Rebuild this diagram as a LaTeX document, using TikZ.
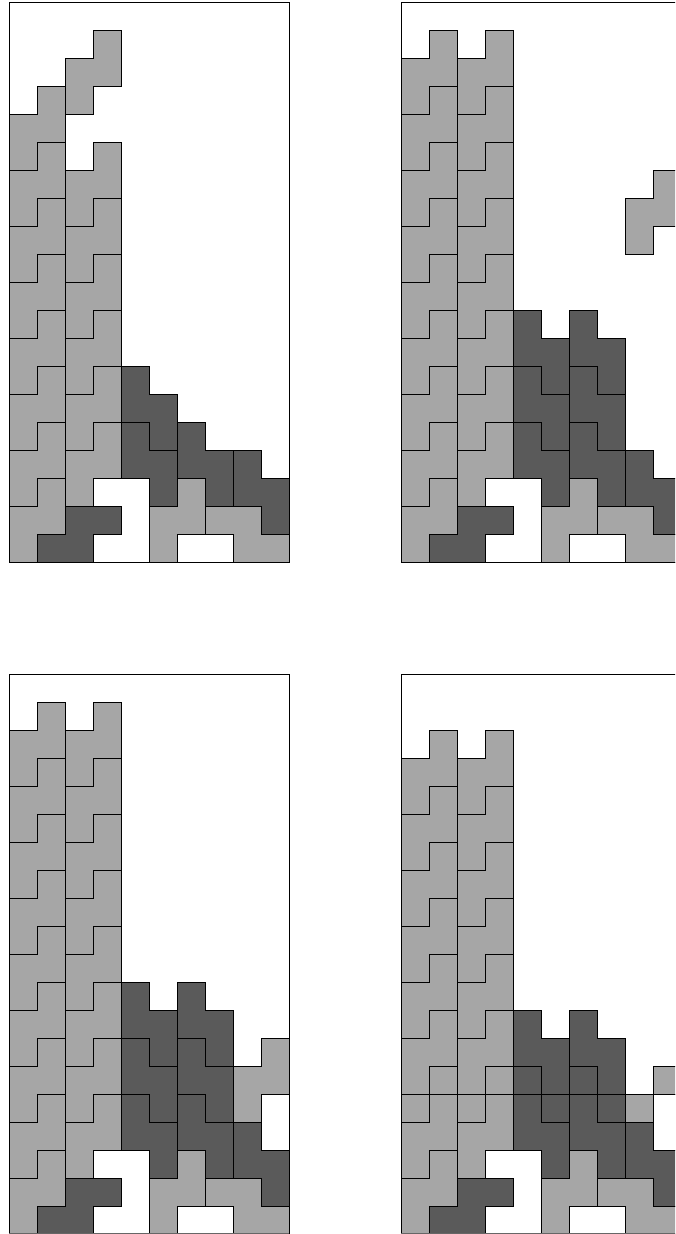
\documentclass[tikz,border=0pt]{standalone}
\definecolor{lightcell}{HTML}{A6A6A6}
\definecolor{darkcell}{HTML}{5A5A5A}
\tikzset{
  lightpiece/.style={fill=lightcell,draw=black,line width=1pt,line join=miter},
  darkpiece/.style={fill=darkcell,draw=black,line width=1pt,line join=miter},
  frameline/.style={draw=black,line width=1pt},
  rowline/.style={draw=black,line width=1pt},
  edgeline/.style={draw=black!60,line width=0.7pt},
  panel/.style={x=28pt,y=28pt}
}
% vertical piece: left column lower, right column higher
\newcommand{\pieceUp}[3]{\path[#1] (#2,#3) -- ++(1,0) -- ++(0,1) -- ++(1,0) -- ++(0,2) -- ++(-1,0) -- ++(0,-1) -- ++(-1,0) -- cycle;}
% vertical piece: left column higher, right column lower
\newcommand{\pieceDown}[3]{\path[#1] (#2,#3+1) -- ++(1,0) -- ++(0,-1) -- ++(1,0) -- ++(0,2) -- ++(-1,0) -- ++(0,1) -- ++(-1,0) -- cycle;}
\newcommand{\floorpieces}{%
  \pieceUp{lightpiece}{5}{0}
  \path[darkpiece] (1,0) -- (3,0) -- (3,1) -- (4,1) -- (4,2) -- (2,2) -- (2,1) -- (1,1) -- cycle;
  \path[lightpiece] (8,0) -- (10,0) -- (10,1) -- (9,1) -- (9,2) -- (7,2) -- (7,1) -- (8,1) -- cycle;
  \pieceDown{darkpiece}{8}{1}
}
\newcommand{\highstack}{%
  \floorpieces
  \foreach \r in {0,2,...,16} {\pieceUp{lightpiece}{0}{\r}}
  \foreach \r in {2,4,...,16} {\pieceUp{lightpiece}{2}{\r}}
  \foreach \r in {2,4,6} {\pieceDown{darkpiece}{4}{\r} \pieceDown{darkpiece}{6}{\r}}
}
\newcommand{\thirdpanel}{%
  \highstack
  \pieceUp{lightpiece}{8}{4}
}
\newcommand{\panelframe}{\path[frameline] (0,0) rectangle (10,20);}
\begin{document}
\begin{tikzpicture}[x=1pt,y=1pt]
\useasboundingbox (0,0) rectangle (675,1234);
\fill[white] (0,0) rectangle (675,1234);
\clip (0,0) rectangle (675,1234);
% top left
\begin{scope}[shift={(9pt,671.7pt)},panel]
  \floorpieces
  \foreach \r in {0,2,...,14} {\pieceUp{lightpiece}{0}{\r}}
  \foreach \r in {2,4,...,12} {\pieceUp{lightpiece}{2}{\r}}
  \pieceUp{lightpiece}{2}{16}
  \pieceDown{darkpiece}{4}{2}
  \pieceDown{darkpiece}{4}{4}
  \pieceDown{darkpiece}{6}{2}
  \panelframe
\end{scope}
% top right
\begin{scope}[shift={(401pt,671.7pt)},panel]
  \highstack
  \pieceUp{lightpiece}{8}{11}
  \panelframe
\end{scope}
% bottom left
\begin{scope}[shift={(9pt,-0.2pt)},panel]
  \thirdpanel
  \panelframe
  \path[edgeline,yshift=0.55pt] (0,0) -- (10,0);
\end{scope}
% bottom right: the full row removed, upper part moved down one row
\begin{scope}[shift={(401pt,-0.2pt)},panel]
  \begin{scope}
    \clip (-1,-1) rectangle (11,5);
    \thirdpanel
  \end{scope}
  \begin{scope}[yshift=-28pt]
    \clip (-1,6) rectangle (11,21);
    \thirdpanel
  \end{scope}
  \path[rowline] (0,5) -- (10,5);
  \panelframe
  \path[edgeline,yshift=0.55pt] (0,0) -- (10,0);
\end{scope}
\end{tikzpicture}
\end{document}
